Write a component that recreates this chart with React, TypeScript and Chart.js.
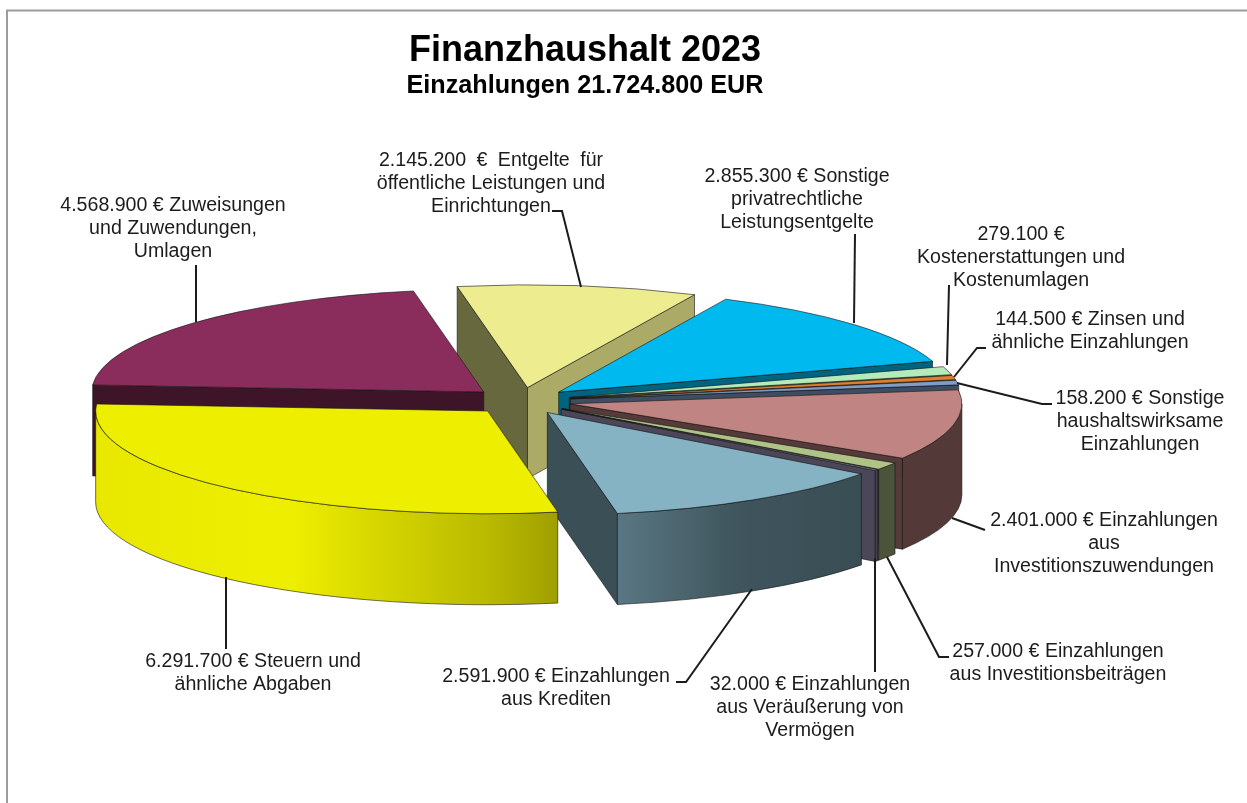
import React, { useEffect, useRef } from "react";
import { Chart, registerables } from "chart.js";

Chart.register(...registerables);

// ---- data ----
const categories = [
  "Steuern und ähnliche Abgaben",
  "Zuweisungen und Zuwendungen, Umlagen",
  "Entgelte für öffentliche Leistungen und Einrichtungen",
  "Sonstige privatrechtliche Leistungsentgelte",
  "Kostenerstattungen und Kostenumlagen",
  "Zinsen und ähnliche Einzahlungen",
  "Sonstige haushaltswirksame Einzahlungen",
  "Einzahlungen aus Investitionszuwendungen",
  "Einzahlungen aus Investitionsbeiträgen",
  "Einzahlungen aus Veräußerung von Vermögen",
  "Einzahlungen aus Krediten",
];
const values = [6291700, 4568900, 2145200, 2855300, 279100, 144500, 158200, 2401000, 257000, 32000, 2591900];
const sliceColors = [
  "#EEEE00", "#8B2D5C", "#EDEC8F", "#00B9EE", "#B4EBBB", "#E07F2C",
  "#7F9DC8", "#C08482", "#AFC387", "#ABA0C8", "#85B3C4",
];
const titleText = "Finanzhaushalt 2023";
const subtitleText = "Einzahlungen 21.724.800 EUR";
const labelLines = [
  ["6.291.700 € Steuern und", "ähnliche Abgaben"],
  ["4.568.900 € Zuweisungen", "und Zuwendungen,", "Umlagen"],
  ["2.145.200 € Entgelte für", "öffentliche Leistungen und", "Einrichtungen"],
  ["2.855.300 € Sonstige", "privatrechtliche", "Leistungsentgelte"],
  ["279.100 €", "Kostenerstattungen und", "Kostenumlagen"],
  ["144.500 € Zinsen und", "ähnliche Einzahlungen"],
  ["158.200 € Sonstige", "haushaltswirksame", "Einzahlungen"],
  ["2.401.000 € Einzahlungen", "aus", "Investitionszuwendungen"],
  ["257.000 € Einzahlungen", "aus Investitionsbeiträgen"],
  ["32.000 € Einzahlungen", "aus Veräußerung von", "Vermögen"],
  ["2.591.900 € Einzahlungen", "aus Krediten"],
];

// ---- layout ----
const PIE_X = 521;
const PIE_Y = 401;
const RADIUS = 392;
const SQUASH = 0.262;
const EXPLODE = 50;
const EXPLODE_TILT = 0.27;
const DEPTH = 91;
const ROTATION = 169.7;
const LABEL_FONT = '19.6px "Liberation Sans"';
const LINE_STEP = 23;
const labelCenters = [
  [253, 662], [173, 206], [491, 161], [797, 177], [1021, 235], [1090, 320],
  [1140, 399], [1104, 521], [1058, 652], [810, 685], [556, 677],
];
const wideLines: Record<string, number> = { "2.145.200 € Entgelte für": 5 };
const leaders = [
  [[226, 577], [226, 649]],
  [[196, 265], [196, 322]],
  [[552, 211], [562, 211], [581, 287]],
  [[855, 234], [854, 323]],
  [[949, 285], [947, 365]],
  [[986, 348], [977, 348], [954, 377]],
  [[1052, 404], [1042, 404], [957, 383]],
  [[952, 518], [985, 530]],
  [[949, 657], [939, 657], [887, 557]],
  [[875, 558], [875, 672]],
  [[676, 682], [686, 682], [752, 589]],
];
// brightness of the curved rim by its clock angle (degrees clockwise from top)
const RIM_SHADE = [
  [60, 0.43], [127, 0.43], [151, 0.47], [170, 0.67], [170.5, 0.71], [210, 1], [285, 0.96],
];

function rimShade(deg: number) {
  const d = ((deg % 360) + 360) % 360;
  if (d <= RIM_SHADE[0][0]) return RIM_SHADE[0][1];
  for (let i = 1; i < RIM_SHADE.length; i++) {
    const [a0, s0] = RIM_SHADE[i - 1];
    const [a1, s1] = RIM_SHADE[i];
    if (d <= a1) return s0 + ((s1 - s0) * (d - a0)) / (a1 - a0);
  }
  return RIM_SHADE[RIM_SHADE.length - 1][1];
}

function shade(hex: string, f: number) {
  const n = parseInt(hex.slice(1), 16);
  const c = (v: number) => Math.round(Math.min(255, v * f));
  return `rgb(${c((n >> 16) & 255)},${c((n >> 8) & 255)},${c(n & 255)})`;
}

const EDGE = "rgba(20,20,20,0.6)";

function drawSlice(ctx: CanvasRenderingContext2D, arc: any) {
  const s: number = arc.startAngle;
  const e: number = arc.endAngle;
  const R: number = arc.outerRadius;
  const color: string = arc.options.backgroundColor;
  const mid = (s + e) / 2;
  const off: number = arc.options.offset;
  const ax = PIE_X + Math.cos(mid) * off;
  const ay = PIE_Y + Math.sin(mid) * off * EXPLODE_TILT;
  const px = (a: number) => ax + Math.cos(a) * R;
  const py = (a: number) => ay + Math.sin(a) * R * SQUASH;

  ctx.lineWidth = 1;
  ctx.strokeStyle = EDGE;

  // radial faces
  const face = (a: number, nx: number) => {
    ctx.beginPath();
    ctx.moveTo(ax, ay);
    ctx.lineTo(px(a), py(a));
    ctx.lineTo(px(a), py(a) + DEPTH);
    ctx.lineTo(ax, ay + DEPTH);
    ctx.closePath();
    ctx.fillStyle = shade(color, nx > 0 ? 0.45 + 0.3 * nx : 0.44);
    ctx.fill();
    ctx.stroke();
  };
  if (-Math.cos(s) > 0) face(s, Math.sin(s));
  if (Math.cos(e) > 0) face(e, -Math.sin(e));

  // curved rim on the front half
  for (const k of [0, 1]) {
    const a = Math.max(s, k * 2 * Math.PI);
    const b = Math.min(e, Math.PI + k * 2 * Math.PI);
    if (b <= a) continue;
    const x0 = px(a);
    const x1 = px(b);
    const grad = ctx.createLinearGradient(x0, 0, x1, 0);
    const steps = 10;
    for (let i = 0; i <= steps; i++) {
      const t = a + ((b - a) * i) / steps;
      const pos = x1 === x0 ? 0 : (px(t) - x0) / (x1 - x0);
      grad.addColorStop(Math.min(1, Math.max(0, pos)), shade(color, rimShade((t * 180) / Math.PI + 90)));
    }
    ctx.beginPath();
    ctx.ellipse(ax, ay, R, R * SQUASH, 0, a, b);
    ctx.lineTo(px(b), py(b) + DEPTH);
    ctx.ellipse(ax, ay + DEPTH, R, R * SQUASH, 0, b, a, true);
    ctx.closePath();
    ctx.fillStyle = grad;
    ctx.fill();
    ctx.stroke();
  }

  // top face
  ctx.beginPath();
  ctx.moveTo(ax, ay);
  ctx.ellipse(ax, ay, R, R * SQUASH, 0, s, e);
  ctx.closePath();
  ctx.fillStyle = color;
  ctx.fill();
  ctx.stroke();
}

const pie3d = {
  id: "pie3d",
  beforeDraw(chart: any) {
    const { ctx, width, height } = chart;
    ctx.save();
    ctx.fillStyle = "#ffffff";
    ctx.fillRect(0, 0, width, height);
    ctx.strokeStyle = "#9c9c9c";
    ctx.lineWidth = 2;
    ctx.beginPath();
    ctx.moveTo(7, height);
    ctx.lineTo(7, 10.5);
    ctx.lineTo(width, 10.5);
    ctx.stroke();
    ctx.restore();
  },
  beforeDatasetsDraw(chart: any) {
    const arcs = chart.getDatasetMeta(0).data;
    const { ctx } = chart;
    ctx.save();
    // the far and right slices first, then the two left slices over them
    for (let i = 2; i < arcs.length; i++) drawSlice(ctx, arcs[i]);
    drawSlice(ctx, arcs[1]);
    drawSlice(ctx, arcs[0]);
    ctx.restore();
    return false;
  },
  afterDraw(chart: any) {
    const { ctx } = chart;
    ctx.save();
    ctx.strokeStyle = "#1c1c1c";
    ctx.lineWidth = 2;
    ctx.lineJoin = "miter";
    for (const pts of leaders) {
      ctx.beginPath();
      pts.forEach(([x, y], i) => (i ? ctx.lineTo(x, y) : ctx.moveTo(x, y)));
      ctx.stroke();
    }
    ctx.fillStyle = "#1c1c1c";
    ctx.font = LABEL_FONT;
    ctx.textAlign = "center";
    ctx.textBaseline = "middle";
    labelLines.forEach((lines, i) => {
      const [x, y] = labelCenters[i];
      lines.forEach((line, j) => {
        (ctx as any).wordSpacing = `${wideLines[line] ?? 0}px`;
        ctx.fillText(line, x, y + j * LINE_STEP);
      });
    });
    ctx.restore();
  },
};

export default function App() {
  const ref = useRef<HTMLCanvasElement>(null);
  useEffect(() => {
    const chart = new Chart(ref.current!, {
      type: "pie",
      data: {
        labels: categories,
        datasets: [
          {
            data: values,
            backgroundColor: sliceColors,
            offset: EXPLODE,
            borderWidth: 0,
            radius: RADIUS,
            rotation: ROTATION,
          } as any,
        ],
      },
      options: {
        responsive: false,
        animation: false,
        layout: { padding: { left: 0, right: 77, top: 0, bottom: 0 } },
        plugins: {
          legend: { display: false },
          tooltip: { enabled: false },
          title: {
            display: true,
            text: titleText,
            fullSize: false,
            color: "#000000",
            font: { family: '"Liberation Sans"', size: 36, weight: "bold", lineHeight: 1.1 },
            padding: { top: 31, bottom: 0 },
          },
          subtitle: {
            display: true,
            text: subtitleText,
            fullSize: false,
            color: "#000000",
            font: { family: '"Liberation Sans"', size: 25.2, weight: "bold", lineHeight: 1.2 },
            padding: { top: 0, bottom: 0 },
          },
        },
      },
      plugins: [pie3d],
    } as any);
    return () => chart.destroy();
  }, []);
  return (
    <div style={{ position: "absolute", left: 0, top: 0, width: 1247, height: 803 }}>
      <canvas ref={ref} width={1247} height={803} style={{ display: "block" }} />
    </div>
  );
}
